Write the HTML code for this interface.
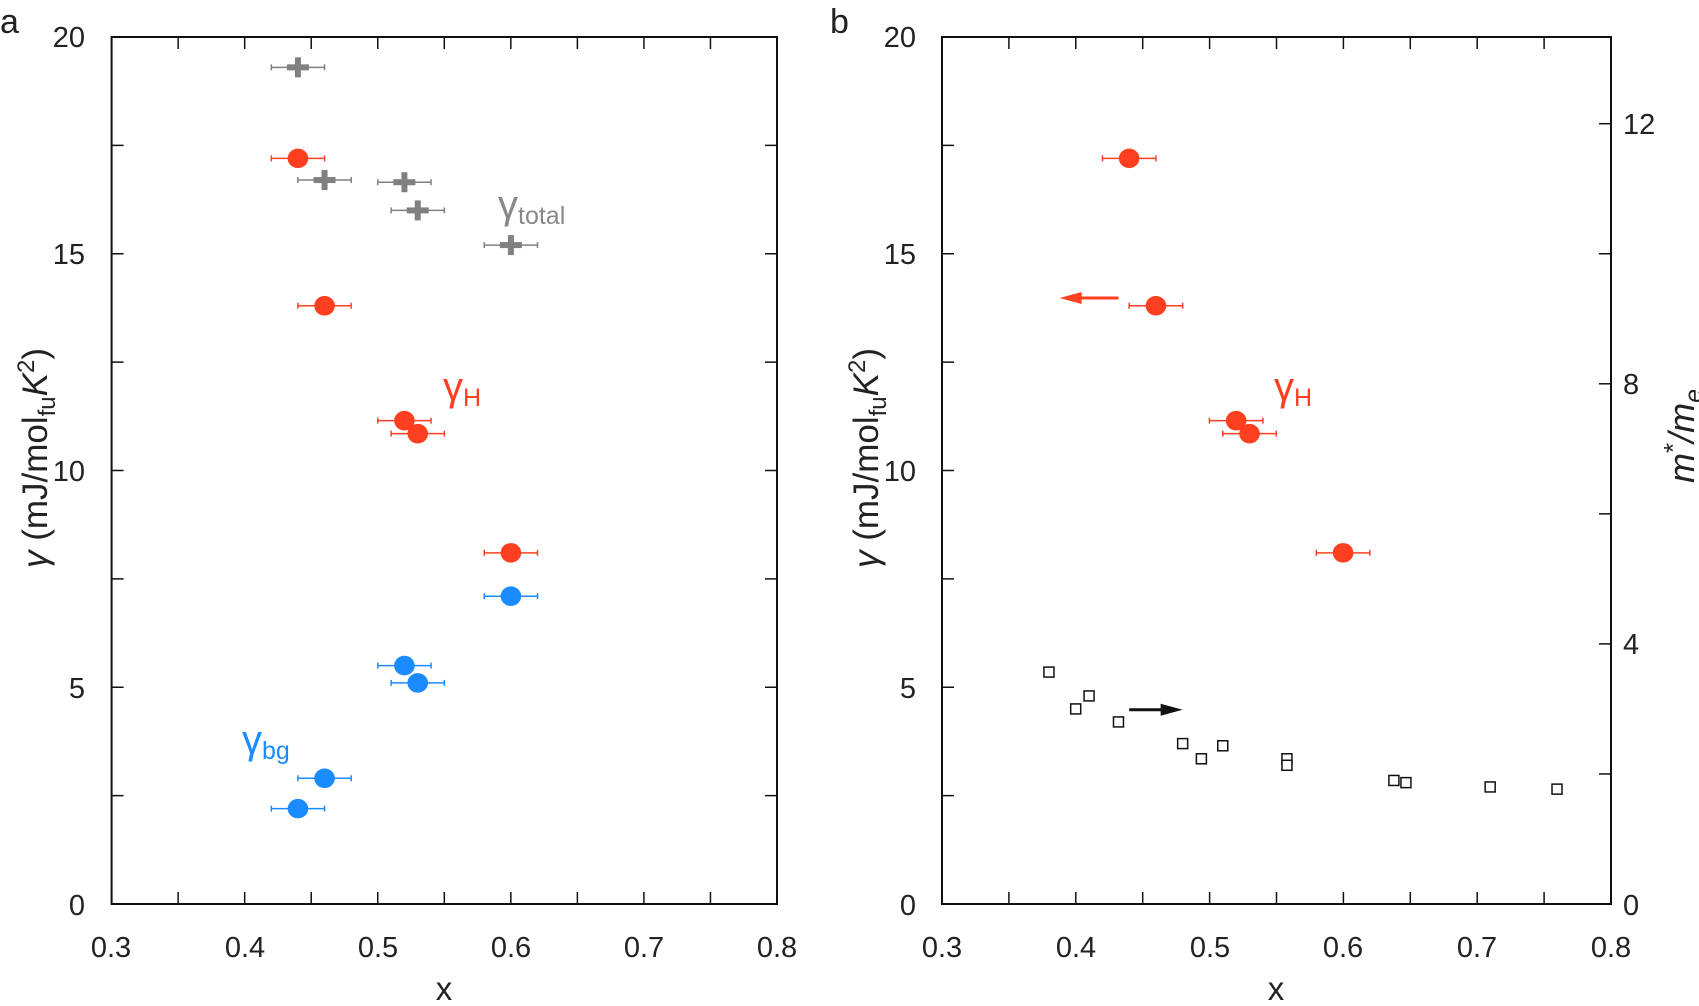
<!DOCTYPE html>
<html><head><meta charset="utf-8"><style>
html,body{margin:0;padding:0;background:#fff;}
svg{display:block;font-family:"Liberation Sans",sans-serif;}
</style></head><body>
<svg id="s" width="1699" height="1006" viewBox="0 0 1699 1006" xmlns="http://www.w3.org/2000/svg">
<g id="g"></g>
<g font-size="29" fill="#222">
<text x="0" y="33" font-size="34">a</text>
<text x="830" y="33" font-size="34">b</text>
<g text-anchor="end">
<text x="85" y="47">20</text><text x="85" y="264">15</text><text x="85" y="481">10</text><text x="85" y="698">5</text><text x="85" y="915">0</text>
<text x="916" y="47">20</text><text x="916" y="264">15</text><text x="916" y="481">10</text><text x="916" y="698">5</text><text x="916" y="915">0</text>
</g>
<g text-anchor="start">
<text x="1623" y="134">12</text><text x="1623" y="394">8</text><text x="1623" y="654">4</text><text x="1623" y="915">0</text>
</g>
<g text-anchor="middle">
<text x="111" y="957">0.3</text><text x="245" y="957">0.4</text><text x="378" y="957">0.5</text><text x="511" y="957">0.6</text><text x="644" y="957">0.7</text><text x="777" y="957">0.8</text>
<text x="942" y="957">0.3</text><text x="1076" y="957">0.4</text><text x="1210" y="957">0.5</text><text x="1343" y="957">0.6</text><text x="1477" y="957">0.7</text><text x="1611" y="957">0.8</text>
<text x="444" y="1000" font-size="33">x</text><text x="1276" y="1000" font-size="33">x</text>
</g>
<text transform="translate(47,458) rotate(-90)" text-anchor="middle" font-size="35"><tspan font-style="italic">γ</tspan> (mJ/mol<tspan font-size="24" dy="8">fu</tspan><tspan dy="-8" font-style="italic">K</tspan><tspan font-size="24" dy="-13">2</tspan><tspan dy="13">)</tspan></text>
<text transform="translate(878,458) rotate(-90)" text-anchor="middle" font-size="35"><tspan font-style="italic">γ</tspan> (mJ/mol<tspan font-size="24" dy="8">fu</tspan><tspan dy="-8" font-style="italic">K</tspan><tspan font-size="24" dy="-13">2</tspan><tspan dy="13">)</tspan></text>
<text transform="translate(1694,436) rotate(-90)" text-anchor="middle" font-size="36" font-style="italic">m<tspan font-style="normal" dy="-12" font-size="26">*</tspan><tspan dy="12">/m</tspan><tspan font-size="25" dy="8">e</tspan></text>
</g>
<g font-size="40">
<text x="498" y="218" fill="#888">γ<tspan font-size="25" dy="6">total</tspan></text>
<text x="443" y="400" fill="#ff4020">γ<tspan font-size="25" dy="6">H</tspan></text>
<text x="242" y="753" fill="#1a8cff">γ<tspan font-size="25" dy="6">bg</tspan></text>
<text x="1274" y="400" fill="#ff4020">γ<tspan font-size="25" dy="6">H</tspan></text>
</g>
</svg>
<script>
var g=document.getElementById('g'),h='';
function L(a,b,c,d,col,w){h+='<line x1="'+a+'" y1="'+b+'" x2="'+c+'" y2="'+d+'" stroke="'+col+'" stroke-width="'+w+'"/>';}
function axes(l,r,t,b,rightMinor){
 h+='<rect x="'+l+'" y="'+t+'" width="'+(r-l)+'" height="'+(b-t)+'" fill="none" stroke="#111" stroke-width="2"/>';
 for(var i=0;i<=10;i++){var x=l+(r-l)*i/10;L(x,b,x,b-12,'#111',1.5);L(x,t,x,t+12,'#111',1.5);}
 for(var i=0;i<=8;i++){var y=b-(b-t)*i/8;L(l,y,l+12,y,'#111',1.5);if(!rightMinor)L(r,y,r-12,y,'#111',1.5);}
 if(rightMinor){for(var m=0;m<=12;m+=2){var y=b-m*1.5*43.35;L(r,y,r-12,y,'#111',1.5);}}
}
axes(111.6,777,37,904,false);
axes(942,1611,37,904,true);
function XA(x){return 111.6+(x-0.3)*1331;} function XB(x){return 942+(x-0.3)*1337;}
function Y(y){return 904-43.35*y;}
function eb(X,x,y,col){var a=X(x-0.02),b=X(x+0.02),yy=Y(y);L(a,yy,b,yy,col,1.5);L(a,yy-3,a,yy+3,col,1.5);L(b,yy-3,b,yy+3,col,1.5);}
function circ(X,x,y,col){eb(X,x,y,col);h+='<ellipse cx="'+X(x)+'" cy="'+Y(y)+'" rx="10.3" ry="9.8" fill="'+col+'"/>';}
function cross(X,x,y,col){eb(X,x,y,col);var cx=X(x),cy=Y(y);h+='<rect x="'+(cx-11)+'" y="'+(cy-3)+'" width="22" height="6" fill="'+col+'"/><rect x="'+(cx-3)+'" y="'+(cy-10)+'" width="6" height="20" fill="'+col+'"/>';}
var gray='#808080',red='#ff4020',blue='#1a8cff';
[[0.44,19.3],[0.46,16.7],[0.52,16.65],[0.53,16.0],[0.60,15.2]].forEach(function(p){cross(XA,p[0],p[1],gray);});
var R=[[0.44,17.2],[0.46,13.8],[0.52,11.15],[0.53,10.85],[0.60,8.1]];
R.forEach(function(p){circ(XA,p[0],p[1],red);});
[[0.44,2.2],[0.46,2.9],[0.52,5.5],[0.53,5.1],[0.60,7.1]].forEach(function(p){circ(XA,p[0],p[1],blue);});
R.forEach(function(p){circ(XB,p[0],p[1],red);});
[[0.38,5.35],[0.40,4.5],[0.41,4.8],[0.432,4.2],[0.48,3.7],[0.494,3.35],[0.51,3.65],[0.558,3.35],[0.558,3.2],[0.638,2.85],[0.647,2.8],[0.71,2.7],[0.76,2.65]].forEach(function(p){
 h+='<rect x="'+(XB(p[0])-5)+'" y="'+(Y(p[1])-5)+'" width="10" height="10" fill="#fff" stroke="#111" stroke-width="1.5"/>';});
var ay=Y(13.98);L(XB(0.39)+12,ay,XB(0.432),ay,red,3);
h+='<polygon points="'+XB(0.388)+','+ay+' '+(XB(0.388)+22)+','+(ay-6)+' '+(XB(0.388)+22)+','+(ay+6)+'" fill="'+red+'"/>';
var by=Y(4.48);L(XB(0.44),by,XB(0.48)-12,by,'#111',3);
h+='<polygon points="'+XB(0.48)+','+by+' '+(XB(0.48)-22)+','+(by-6)+' '+(XB(0.48)-22)+','+(by+6)+'" fill="#111"/>';
g.innerHTML=h;
</script>
</body></html>
